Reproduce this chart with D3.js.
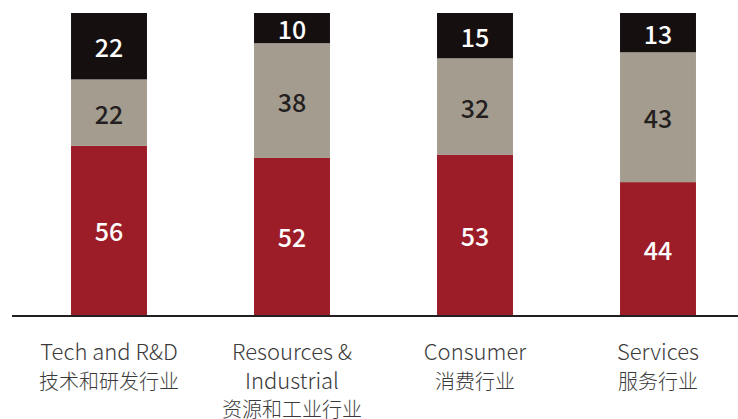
<!DOCTYPE html>
<html>
<head>
<meta charset="utf-8">
<script src="https://cdn.jsdelivr.net/npm/d3@7/dist/d3.min.js"></script>
<style>
  html, body { margin: 0; padding: 0; background: #fff; }
  svg { display: block; }
  text { font-family: "Noto Sans CJK SC", "Noto Sans", sans-serif; }
</style>
</head>
<body>
<svg id="chart" width="738" height="419"></svg>
<script>
// Industry groups (English and Chinese label lines)
const categories = ["tech", "resources", "consumer", "services"];
const labelLines = [
  ["Tech and R&D", "技术和研发行业"],
  ["Resources &", "Industrial", "资源和工业行业"],
  ["Consumer", "消费行业"],
  ["Services", "服务行业"]
];

// Stacked shares (%), bottom to top
const seriesKeys = ["bottom", "middle", "top"];
const bottomValues = [56, 52, 53, 44];
const middleValues = [22, 38, 32, 43];
const topValues = [22, 10, 15, 13];

const fills = { bottom: "#9c1d27", middle: "#a49c8f", top: "#150f10" };
const labelColors = { bottom: "#ffffff", middle: "#231f20", top: "#ffffff" };

const rows = categories.map((c, i) => ({
  category: c,
  bottom: bottomValues[i],
  middle: middleValues[i],
  top: topValues[i]
}));

const svg = d3.select("#chart");
const baseline = 315;
const topY = 13;

const x = d3.scaleBand()
  .domain(categories)
  .range([17.5, 749.5])
  .paddingInner(0.585)
  .paddingOuter(0.2925);

const y = d3.scaleLinear().domain([0, 100]).range([baseline, topY]);

const stacked = d3.stack().keys(seriesKeys)(rows);

const layers = svg.append("g").selectAll("g")
  .data(stacked)
  .join("g")
  .attr("fill", d => fills[d.key]);

layers.selectAll("rect")
  .data(d => d.map(p => ({ p, key: d.key })))
  .join("rect")
  .attr("x", d => x(d.p.data.category))
  .attr("width", x.bandwidth())
  .attr("y", d => y(d.p[1]))
  .attr("height", d => y(d.p[0]) - y(d.p[1]));

// Value labels centred in each segment
layers.selectAll("text")
  .data(d => d.map(p => ({ p, key: d.key })))
  .join("text")
  .attr("x", d => x(d.p.data.category) + x.bandwidth() / 2)
  .attr("y", d => (y(d.p[0]) + y(d.p[1])) / 2)
  .attr("text-anchor", "middle")
  .attr("dominant-baseline", "central")
  .attr("font-size", 25)
  .attr("font-weight", 500)
  .attr("fill", d => labelColors[d.key])
  .text(d => d.p.data[d.key]);

// Baseline axis
const xAxis = d3.axisBottom(x).tickSize(0).tickFormat("");
const axisG = svg.append("g")
  .attr("transform", `translate(0,${baseline + 1})`)
  .call(xAxis);
axisG.select(".domain")
  .attr("d", "M12,0H738")
  .attr("stroke", "#231f20")
  .attr("stroke-width", 2);

// Category labels: Latin lines slightly larger than CJK lines
const isCJK = s => /[\u4e00-\u9fff]/.test(s);
const catLabels = svg.append("g").selectAll("text")
  .data(categories)
  .join("text")
  .attr("text-anchor", "middle")
  .attr("font-weight", 300)
  .attr("fill", "#3a3a3a");

catLabels.each(function(c, i) {
  const t = d3.select(this);
  labelLines[i].forEach((line, j) => {
    const cjk = isCJK(line);
    t.append("tspan")
      .attr("x", x(c) + x.bandwidth() / 2)
      .attr("y", 350 + j * 28.5 + (cjk ? 1.5 : 0))
      .attr("dominant-baseline", "central")
      .attr("font-size", cjk ? 20 : 22)
      .text(line);
  });
});
</script>
</body>
</html>
